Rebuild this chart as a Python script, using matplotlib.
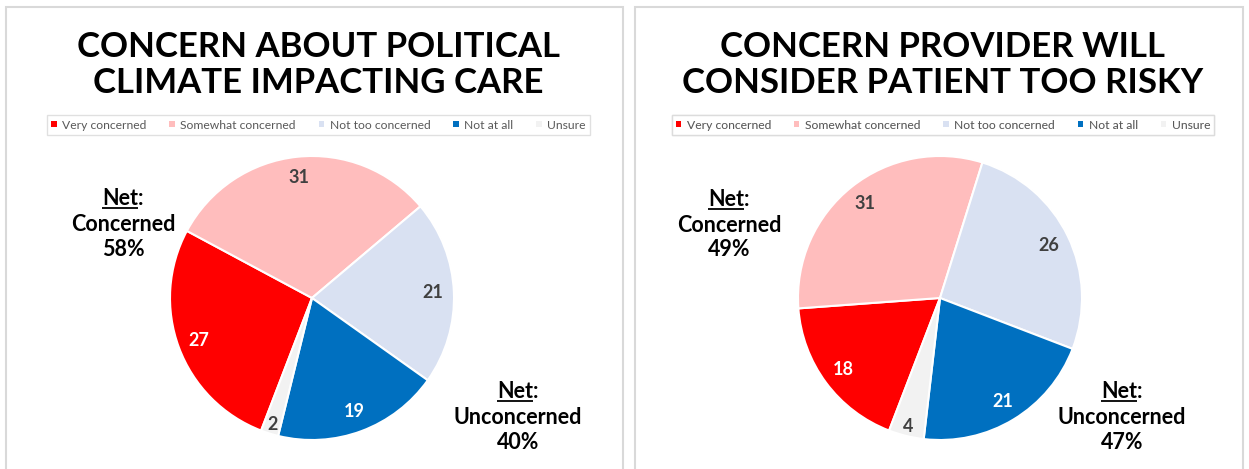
import numpy as np
import matplotlib.pyplot as plt
from matplotlib.patches import Patch, Rectangle

# Survey answers, in percent
categories = ['Very concerned', 'Somewhat concerned', 'Not too concerned', 'Not at all', 'Unsure']
political_climate = [27, 31, 21, 19, 2]
provider_risky = [18, 31, 26, 21, 4]
net_political = {'Concerned': 58, 'Unconcerned': 40}
net_risky = {'Concerned': 49, 'Unconcerned': 47}

titles = ['CONCERN ABOUT POLITICAL\nCLIMATE IMPACTING CARE',
          'CONCERN PROVIDER WILL\nCONSIDER PATIENT TOO RISKY']

colors = ['#ff0000', '#ffbdbd', '#d9e1f2', '#0070c0', '#f2f2f2']
label_colors = ['white', '#404040', '#404040', 'white', '#404040']

W, H = 1249, 469
plt.rcParams['font.family'] = ['Lato', 'DejaVu Sans']

fig = plt.figure(figsize=(W / 100, H / 100), dpi=100)
ax = fig.add_axes([0, 0, 1, 1])


def Y(py):
    # pixel rows are counted from the top
    return H - py


def reset_limits():
    ax.set_xlim(0, W)
    ax.set_ylim(0, H)
    ax.set_aspect('equal')
    ax.axis('off')


def net_block(x, y, word, pct):
    t = ax.text(x, Y(y), 'Net:', ha='center', va='center', fontsize=15.5, fontweight='bold')
    ax.text(x, Y(y + 26), word, ha='center', va='center', fontsize=15.5, fontweight='bold')
    ax.text(x, Y(y + 51), f'{pct}%', ha='center', va='center', fontsize=15.5, fontweight='bold')
    # underline the word "Net" only
    r = fig.canvas.get_renderer()
    full = t.get_window_extent(r)
    probe = ax.text(0, 0, 'Net', fontsize=15.5, fontweight='bold')
    w_net = probe.get_window_extent(r).width
    probe.remove()
    ax.plot([full.x0, full.x0 + w_net], [full.y0 + 1, full.y0 + 1], color='black', lw=1.3,
            solid_capstyle='butt')


panels = [
    (6, 623, 312, political_climate, net_political, (123, 198), (518, 391)),
    (635, 1243, 940, provider_risky, net_risky, (729, 199), (1122, 391)),
]

handles = [Patch(facecolor=c, edgecolor='none') for c in colors]

for i, (x0, x1, cx, values, net, conc_pos, unconc_pos) in enumerate(panels):
    ax.add_patch(Rectangle((x0, Y(490)), x1 - x0, 490 - 7, facecolor='white',
                           edgecolor='#d9d9d9', lw=1.5, zorder=0))
    mid = (x0 + x1) / 2 + 4
    ax.text(mid, Y(65), titles[i], ha='center', va='center', fontsize=25,
            fontweight='bold', linespacing=1.16)

    leg = ax.legend(handles=handles, labels=categories, ncol=5, loc='center',
                    bbox_to_anchor=(mid, Y(125)), bbox_transform=ax.transData,
                    fontsize=8.7, labelcolor='#595959', frameon=True, fancybox=False,
                    edgecolor='#d9d9d9', handlelength=0.45, handleheight=0.45,
                    handletextpad=0.45, columnspacing=1.9, borderpad=0.35)
    leg.get_frame().set_linewidth(1.0)
    ax.add_artist(leg)

    r = 142
    wedges, _ = ax.pie(values, colors=colors, startangle=-111, counterclock=False,
                       center=(cx, Y(298)), radius=r,
                       wedgeprops=dict(edgecolor='white', linewidth=1.5))
    reset_limits()
    for w, v, lc in zip(wedges, values, label_colors):
        ang = np.deg2rad((w.theta1 + w.theta2) / 2)
        d = 0.93 if v < 5 else 0.85
        ax.text(cx + d * r * np.cos(ang), Y(298) + d * r * np.sin(ang), str(v),
                ha='center', va='center', fontsize=13, fontweight='bold', color=lc)

    net_block(conc_pos[0], conc_pos[1], 'Concerned', net['Concerned'])
    net_block(unconc_pos[0], unconc_pos[1], 'Unconcerned', net['Unconcerned'])

reset_limits()
fig.savefig('out.png', dpi=100)
